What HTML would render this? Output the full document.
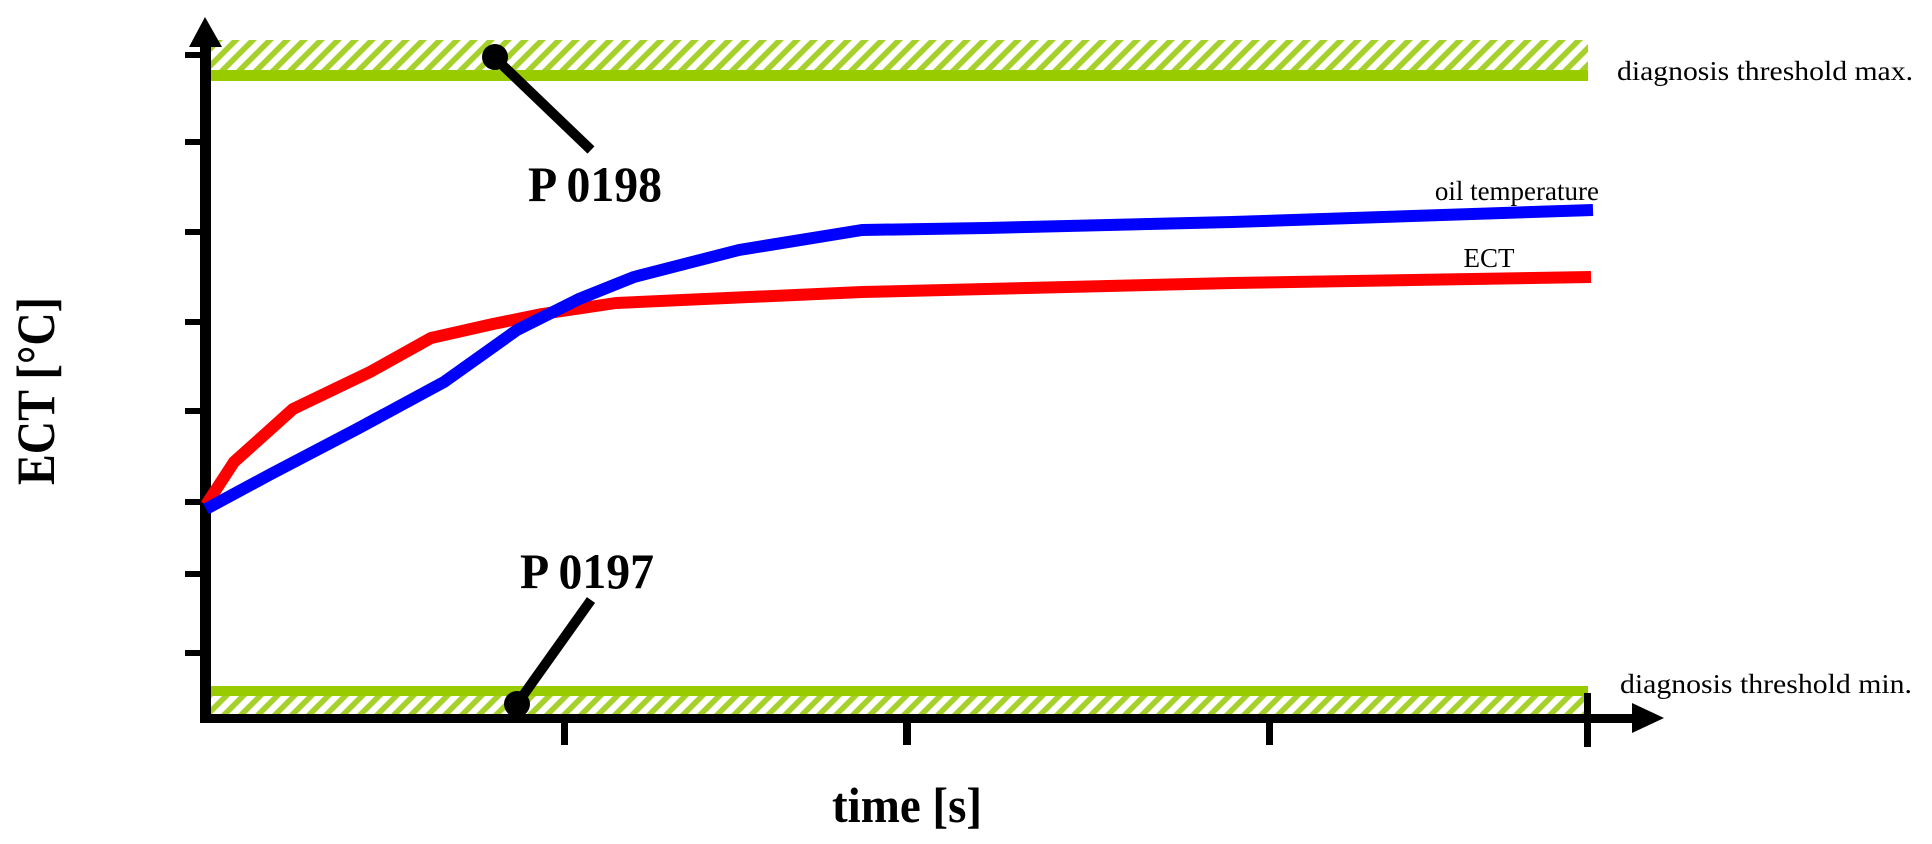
<!DOCTYPE html>
<html><head><meta charset="utf-8"><style>html,body{margin:0;padding:0;background:#fff}svg{display:block}</style></head>
<body>
<svg width="1932" height="844" viewBox="0 0 1932 844" xmlns="http://www.w3.org/2000/svg">
<defs>
<pattern id="h" width="17" height="17" patternUnits="userSpaceOnUse" patternTransform="skewX(-45)">
<rect width="17" height="17" fill="#ffffff"/>
<rect x="0" width="8" height="17" fill="#a6d12a"/>
</pattern>
</defs>
<!-- top band -->
<rect x="211" y="40" width="1377" height="30" fill="url(#h)"/>
<rect x="211" y="70" width="1377" height="11" fill="#99cc00"/>
<!-- bottom band -->
<rect x="211" y="686" width="1377" height="10" fill="#99cc00"/>
<rect x="211" y="696" width="1377" height="18" fill="url(#h)"/>
<!-- axes -->
<rect x="200" y="40" width="11" height="683" fill="#000"/>
<polygon points="205,17 189,47 222,47" fill="#000"/>
<rect x="200" y="714" width="1440" height="9" fill="#000"/>
<polygon points="1664,718 1632,703 1632,733" fill="#000"/>
<g fill="#000">
<rect x="185" y="52" width="16" height="6"/>
<rect x="185" y="139" width="16" height="6"/>
<rect x="185" y="229" width="16" height="6"/>
<rect x="185" y="319" width="16" height="6"/>
<rect x="185" y="408" width="16" height="6"/>
<rect x="185" y="499" width="16" height="6"/>
<rect x="185" y="571" width="16" height="6"/>
<rect x="185" y="650" width="16" height="6"/>
<rect x="561" y="720" width="7" height="25"/>
<rect x="903" y="720" width="8" height="25"/>
<rect x="1266" y="720" width="7" height="25"/>
<rect x="1584" y="693" width="7" height="54"/>
</g>
<!-- curves -->
<polyline fill="none" stroke="#ff0000" stroke-width="12" stroke-linejoin="round" points="206,505 234,462 293,409 370,372 431,338 493,324 542,314 616,303 862,292 1232,283 1591,277"/>
<polyline fill="none" stroke="#0000ff" stroke-width="12" stroke-linejoin="round" points="206,509 271,474 357,429 444,382 517,330 579,299 634,277 739,250 862,230 986,228 1232,222 1593,210"/>
<!-- markers -->
<line x1="495" y1="58" x2="591" y2="150" stroke="#000" stroke-width="10"/>
<circle cx="495" cy="57" r="13" fill="#000"/>
<line x1="517" y1="704" x2="591" y2="600" stroke="#000" stroke-width="10"/>
<circle cx="517" cy="704" r="13" fill="#000"/>
<!-- texts -->
<g font-family="Liberation Serif, serif" fill="#000">
<text x="528" y="201" font-size="50" font-weight="bold" textLength="134" lengthAdjust="spacingAndGlyphs">P 0198</text>
<text x="520" y="588" font-size="50" font-weight="bold" textLength="134" lengthAdjust="spacingAndGlyphs">P 0197</text>
<text x="832" y="822" font-size="50" font-weight="bold" textLength="150" lengthAdjust="spacingAndGlyphs">time [s]</text>
<text transform="translate(54,485) rotate(-90)" font-size="54" font-weight="bold" textLength="188" lengthAdjust="spacingAndGlyphs">ECT [°C]</text>
<text x="1617" y="80" font-size="27" textLength="296" lengthAdjust="spacingAndGlyphs">diagnosis threshold max.</text>
<text x="1620" y="693" font-size="27" textLength="292" lengthAdjust="spacingAndGlyphs">diagnosis threshold min.</text>
<text x="1599" y="200" font-size="27" text-anchor="end">oil temperature</text>
<text x="1489" y="267" font-size="27" text-anchor="middle">ECT</text>
</g>
</svg>
</body></html>
